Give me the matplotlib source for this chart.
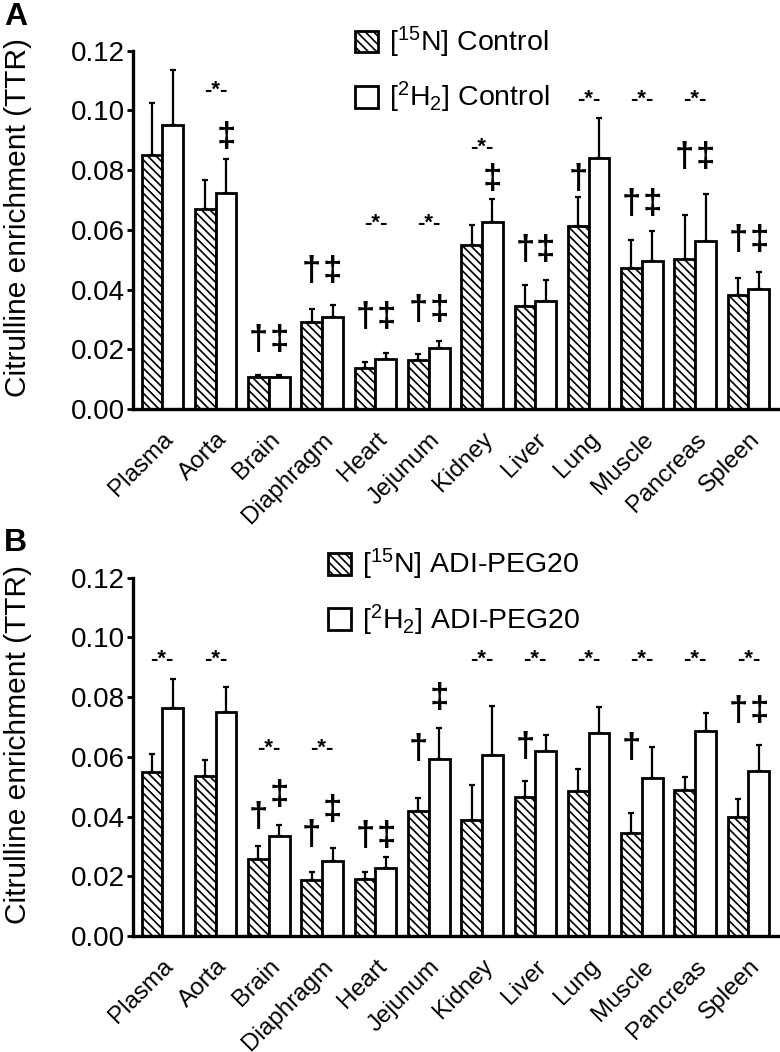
import numpy as np
import matplotlib
matplotlib.use("Agg")
import matplotlib.pyplot as plt
from matplotlib.patches import Patch

plt.rcParams['font.family'] = ['Liberation Sans', 'DejaVu Sans']
plt.rcParams['mathtext.fontset'] = 'custom'
plt.rcParams['mathtext.rm'] = 'Liberation Sans'
plt.rcParams['hatch.linewidth'] = 1.2

tissues = ["Plasma", "Aorta", "Brain", "Diaphragm", "Heart", "Jejunum",
           "Kidney", "Liver", "Lung", "Muscle", "Pancreas", "Spleen"]

# Panel A: control
a_n15 = [0.0850, 0.0671, 0.0106, 0.0292, 0.0137, 0.0163, 0.0549, 0.0344, 0.0613, 0.0473, 0.0504, 0.0381]
a_n15_err = [0.0175, 0.0097, 0.0009, 0.0043, 0.0021, 0.0021, 0.0068, 0.0073, 0.0096, 0.0094, 0.0147, 0.0058]
a_h2 = [0.0952, 0.0723, 0.0108, 0.0309, 0.0167, 0.0203, 0.0625, 0.0363, 0.0842, 0.0496, 0.0564, 0.0401]
a_h2_err = [0.0183, 0.0114, 0.0007, 0.0041, 0.0022, 0.0024, 0.0079, 0.0069, 0.0132, 0.0099, 0.0157, 0.0057]
a_star = [np.nan, 0.1066, np.nan, np.nan, 0.062, 0.062, 0.0876, np.nan, 0.1038, 0.1038, 0.1038, np.nan]
a_dag = [np.nan, np.nan, 0.0229, 0.0461, 0.0307, 0.0329, np.nan, 0.053, 0.077, 0.0686, 0.0843, 0.0564]
a_ddag = [np.nan, 0.091, 0.0229, 0.0461, 0.0307, 0.0329, 0.077, 0.053, np.nan, 0.0686, 0.0843, 0.0564]

# Panel B: ADI-PEG20
b_n15 = [0.0548, 0.0536, 0.0258, 0.0187, 0.0190, 0.0420, 0.0389, 0.0464, 0.0487, 0.0344, 0.0489, 0.0398]
b_n15_err = [0.0061, 0.0053, 0.0044, 0.0027, 0.0024, 0.0042, 0.0118, 0.0056, 0.0073, 0.0068, 0.0042, 0.0062]
b_h2 = [0.0764, 0.0751, 0.0334, 0.0250, 0.0226, 0.0594, 0.0607, 0.0620, 0.0679, 0.0529, 0.0687, 0.0553]
b_h2_err = [0.0098, 0.0082, 0.0039, 0.0046, 0.0038, 0.0104, 0.0163, 0.0053, 0.0089, 0.0105, 0.0061, 0.0086]
b_star = [0.0926, 0.0926, 0.0628, 0.0628, np.nan, np.nan, 0.0926, 0.0926, 0.0926, 0.0926, 0.0926, 0.0926]
b_dag = [np.nan, np.nan, 0.0398, 0.0337, 0.0332, 0.0626, np.nan, 0.0631, np.nan, 0.0629, np.nan, 0.0751]
b_ddag = [np.nan, np.nan, 0.047, 0.042, 0.0332, 0.0796, np.nan, np.nan, np.nan, np.nan, np.nan, 0.0751]

legend_a = [r"[$\mathregular{^{15}}$N] Control", r"[$\mathregular{^{2}}$H$\mathregular{_{2}}$] Control"]
legend_b = [r"[$\mathregular{^{15}}$N] ADI-PEG20", r"[$\mathregular{^{2}}$H$\mathregular{_{2}}$] ADI-PEG20"]
yticks = [0.00, 0.02, 0.04, 0.06, 0.08, 0.10, 0.12]
ylabel = "Citrulline enrichment (TTR)"

HATCH = "\\\\\\\\"
W = 0.39

fig = plt.figure(figsize=(7.8, 10.52), dpi=100)
axA = fig.add_axes([0.1705, 0.6112, 0.828, 0.3406])
axB = fig.add_axes([0.1705, 0.1103, 0.828, 0.3406])


def draw(ax, n15, n15e, h2, h2e, star, dag, ddag, labels, leg_x, leg_y):
    x = np.arange(len(tissues))
    ax.bar(x - W / 2, n15, W, facecolor='white', edgecolor='black', hatch=HATCH, lw=2.0, zorder=2)
    ax.bar(x + W / 2, h2, W, facecolor='white', edgecolor='black', lw=2.0, zorder=2)
    ax.errorbar(x - W / 2, n15, yerr=[np.zeros(len(x)), n15e], fmt='none', ecolor='black',
                elinewidth=1.6, capsize=2.2, capthick=1.6, zorder=1)
    ax.errorbar(x + W / 2, h2, yerr=[np.zeros(len(x)), h2e], fmt='none', ecolor='black',
                elinewidth=1.6, capsize=2.2, capthick=1.6, zorder=1)
    for i in range(len(x)):
        if not np.isnan(star[i]):
            ax.text(x[i], star[i], "-*-", ha='center', va='center', fontsize=16, fontweight='bold')
        if not np.isnan(dag[i]):
            ax.text(x[i] - W / 2, dag[i], "\u2020", ha='center', va='center', fontsize=25,
                    fontweight='bold')
        if not np.isnan(ddag[i]):
            ax.text(x[i] + W / 2, ddag[i], "\u2021", ha='center', va='center', fontsize=25,
                    fontweight='bold')
    ax.set_xlim(-0.55, 11.57)
    ax.set_ylim(0, 0.12)
    ax.set_yticks(yticks)
    ax.set_yticklabels([f"{v:.2f}" for v in yticks], fontsize=20)
    ax.set_xticks(x)
    ax.set_xticklabels(tissues, rotation=45, ha='right', rotation_mode='anchor', fontsize=17.5)
    ax.tick_params(axis='x', length=0, pad=14)
    ax.tick_params(axis='y', length=4, width=2, pad=2)
    for s in ['top', 'right']:
        ax.spines[s].set_visible(False)
    for s in ['left', 'bottom']:
        ax.spines[s].set_linewidth(2.4)
    ax.set_ylabel(ylabel, fontsize=21.5)
    ax.yaxis.set_label_coords(-0.157, 0.535)
    handles = [Patch(facecolor='white', edgecolor='black', hatch=HATCH, lw=2.0),
               Patch(facecolor='white', edgecolor='black', lw=2.0)]
    ax.legend(handles, labels, loc='upper left', bbox_to_anchor=(leg_x, leg_y), frameon=False,
              fontsize=20.5, handlelength=0.8, handleheight=0.8, handletextpad=0.4,
              labelspacing=0.7, borderpad=0, borderaxespad=0)


draw(axA, a_n15, a_n15_err, a_h2, a_h2_err, a_star, a_dag, a_ddag, legend_a, 0.344, 1.072)
draw(axB, b_n15, b_n15_err, b_h2, b_h2_err, b_star, b_dag, b_ddag, legend_b, 0.302, 1.085)

fig.text(0.005, 0.998, "A", fontsize=23, fontweight='bold', ha='left', va='top')
fig.text(0.005, 0.498, "B", fontsize=23, fontweight='bold', ha='left', va='top')

fig.savefig("out.png", dpi=100)
